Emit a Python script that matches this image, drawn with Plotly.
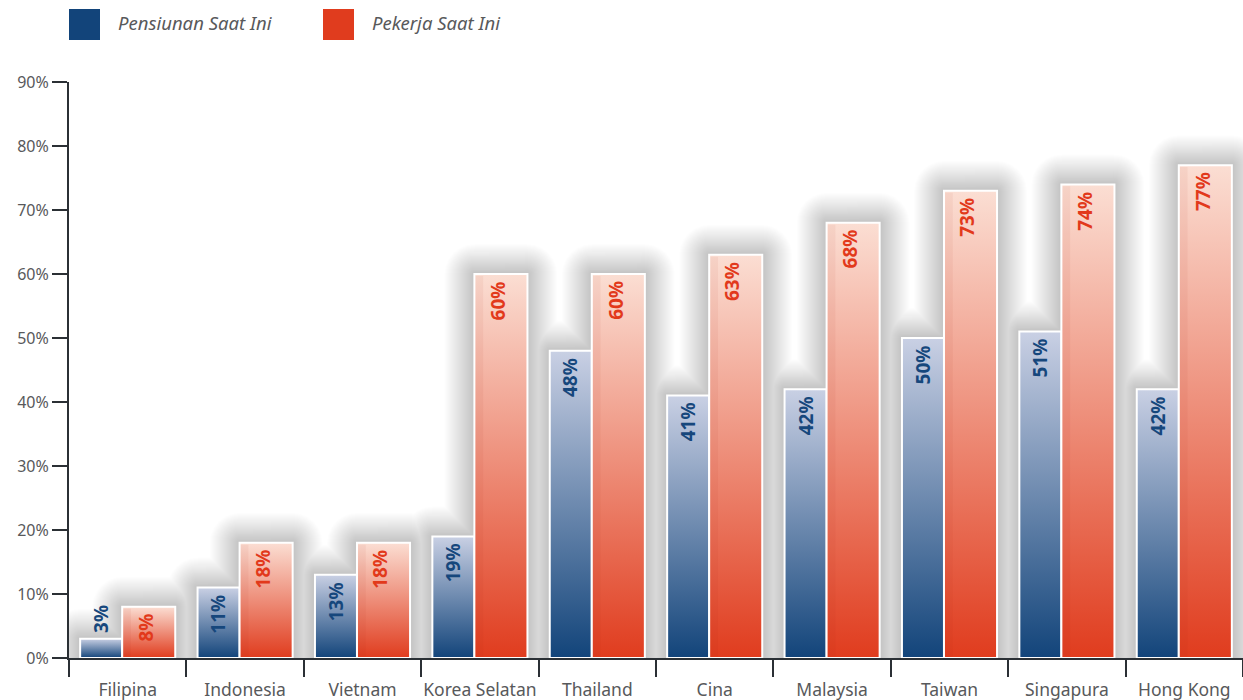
import math
import plotly.graph_objects as go

# ---- data ----
countries = ["Filipina", "Indonesia", "Vietnam", "Korea Selatan", "Thailand",
             "Cina", "Malaysia", "Taiwan", "Singapura", "Hong Kong"]
retirees = [3, 11, 13, 19, 48, 41, 42, 50, 51, 42]     # Pensiunan Saat Ini
workers = [8, 18, 18, 60, 60, 63, 68, 73, 74, 77]       # Pekerja Saat Ini
y_ticks = [0, 10, 20, 30, 40, 50, 60, 70, 80, 90]
y_tick_labels = [f"{v}%" for v in y_ticks]
series_names = ["Pensiunan Saat Ini", "Pekerja Saat Ini"]

# ---- styling ----
W, H = 1243, 700
ML, MR, MT, MB = 69, 0, 82, 42
PW, PH = W - ML - MR, H - MT - MB
YMAX = 90
BLUE_DARK, BLUE_LIGHT = "#12447a", "#c9d0e4"
RED_DARK, RED_LIGHT = "#e03c1e", "#fbded3"
BLUE_TXT, RED_TXT = "#16477c", "#e2391b"
AXIS = "#2b3035"
GRAY = "#58595b"
FONT = "Noto Sans"

# bar geometry in category units
B0, B1 = -0.405, -0.047   # retirees bar
R0, R1 = -0.047, 0.405    # workers bar
px_x = (PW / 10.0)        # pixels per category
px_y = PH / YMAX          # pixels per %

fig = go.Figure()


def rounded_rect(x0, x1, y0, y1, rx, ry, n=6):
    """Rectangle path with rounded top corners (in data units)."""
    xs, ys = [x0, x1], [y0, y0]
    for j in range(n + 1):
        t = j / n * math.pi / 2
        xs.append(x1 - rx + rx * math.cos(t))
        ys.append(y1 - ry + ry * math.sin(t))
    for j in range(n + 1):
        t = math.pi / 2 + j / n * math.pi / 2
        xs.append(x0 + rx + rx * math.cos(t))
        ys.append(y1 - ry + ry * math.sin(t))
    xs += [x0, None]
    ys += [y0, None]
    return xs, ys


# soft shadows (layered translucent rounded rectangles)
n_layers = 30
step = 1.0
for k in range(n_layers, 0, -1):
    d = k * step
    dx = d / px_x
    dy = d / px_y
    xs, ys = [], []
    for i in range(len(countries)):
        for (a, b, v) in ((B0, B1, retirees[i]), (R0, R1, workers[i])):
            px, py = rounded_rect(i + a - dx, i + b + dx, -5, v + dy, dx, dy)
            xs += px
            ys += py
    fig.add_trace(go.Scatter(x=xs, y=ys, mode="lines", fill="toself",
                             fillcolor="rgba(0,0,0,0.0062)", line=dict(width=0),
                             hoverinfo="skip", showlegend=False))


def bar(i, a, b, v, dark, light):
    x0, x1 = i + a, i + b
    fig.add_trace(go.Scatter(
        x=[x0, x1, x1, x0, x0], y=[0, 0, v, v, 0], mode="lines", fill="toself",
        fillgradient=dict(type="vertical", colorscale=[[0, dark], [1, light]],
                          start=0, stop=v),
        line=dict(color="white", width=2), hoverinfo="skip", showlegend=False))


for i in range(len(countries)):
    bar(i, B0, B1, retirees[i], BLUE_DARK, BLUE_LIGHT)
for i in range(len(countries)):
    bar(i, R0, R1, workers[i], RED_DARK, RED_LIGHT)
    # subtle darker band on left of the red bars
    fig.add_trace(go.Scatter(
        x=[i + R0 + 0.01, i + R0 + 0.075, i + R0 + 0.075, i + R0 + 0.01, i + R0 + 0.01],
        y=[0.2, 0.2, workers[i] - 0.3, workers[i] - 0.3, 0.2], mode="lines", fill="toself",
        fillcolor="rgba(170,40,15,0.06)", line=dict(width=0),
        hoverinfo="skip", showlegend=False))

annotations = []
for i in range(len(countries)):
    v = retirees[i]
    inside = v >= 8
    annotations.append(dict(
        x=i + (B0 + B1) / 2, y=v, xref="x", yref="y", text=f"<b>{v}%</b>",
        textangle=-90, showarrow=False, yanchor="top" if inside else "bottom",
        yshift=-5 if inside else 4,
        font=dict(family=FONT, size=19, color=BLUE_TXT)))
    v = workers[i]
    annotations.append(dict(
        x=i + (R0 + R1) / 2, y=v, xref="x", yref="y", text=f"<b>{v}%</b>",
        textangle=-90, showarrow=False, yanchor="top", yshift=-5, xshift=-3,
        font=dict(family=FONT, size=19, color=RED_TXT)))


def pxx(p):
    return (p - ML) / PW


def pxy(p):
    return (H - MB - p) / PH


# manual legend
shapes = []
for (x0, col, name, tx) in ((69, BLUE_DARK, series_names[0], 116),
                            (323, RED_DARK, series_names[1], 370)):
    shapes.append(dict(type="rect", xref="paper", yref="paper",
                       x0=pxx(x0), x1=pxx(x0 + 31), y0=pxy(40), y1=pxy(9),
                       fillcolor=col, line=dict(width=0)))
    annotations.append(dict(x=pxx(tx), y=pxy(23), xref="paper", yref="paper",
                            text=f"<i>{name}</i>", showarrow=False, xanchor="left",
                            yanchor="middle",
                            font=dict(family=FONT, size=18.5, color=GRAY)))

fig.update_layout(
    width=W, height=H,
    margin=dict(l=ML, r=MR, t=MT, b=MB, autoexpand=False),
    paper_bgcolor="white", plot_bgcolor="white",
    showlegend=False, hovermode=False,
    shapes=shapes, annotations=annotations,
    xaxis=dict(range=[-0.5, 9.5], tickmode="array", tickvals=list(range(10)),
               ticktext=countries, ticks="outside", ticklen=15,
               tickcolor="rgba(0,0,0,0)", showgrid=False, zeroline=False,
               showline=True, linecolor=AXIS, linewidth=2, automargin=False,
               tickfont=dict(family=FONT, size=17.5, color=GRAY),
               minor=dict(tickmode="array", tickvals=[i - 0.5 for i in range(11)],
                          ticks="outside", ticklen=17, tickwidth=1.5, tickcolor=AXIS),
               fixedrange=True),
    yaxis=dict(range=[0, YMAX], tickmode="array", tickvals=y_ticks,
               ticktext=y_tick_labels, ticks="outside", ticklen=15, tickwidth=1.5,
               tickcolor=AXIS, showgrid=False, zeroline=False, showline=True,
               linecolor=AXIS, linewidth=2, automargin=False,
               tickfont=dict(family=FONT, size=16, color=GRAY), fixedrange=True),
)

fig.write_html("out.html")
